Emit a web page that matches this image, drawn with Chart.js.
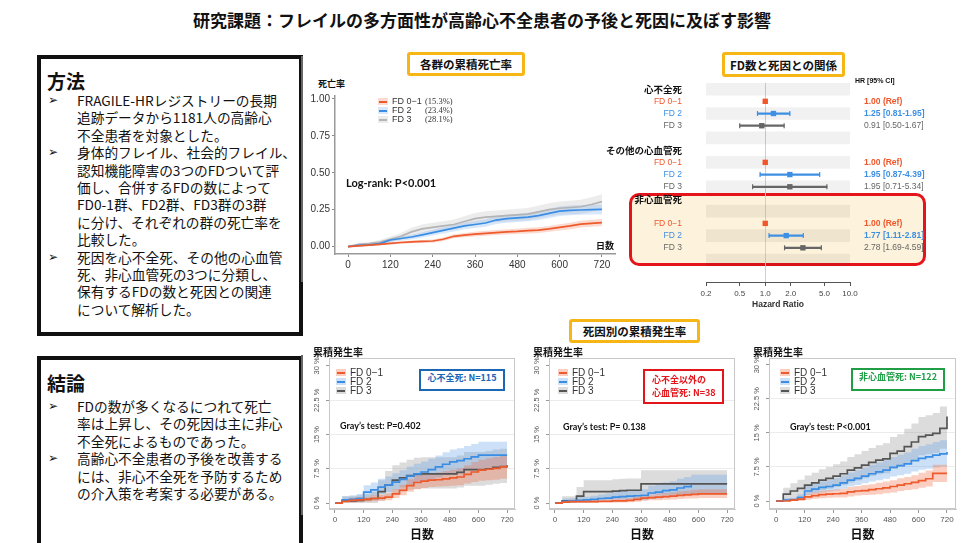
<!DOCTYPE html>
<html lang="ja">
<head>
<meta charset="utf-8">
<title>フレイルの多方面性と高齢心不全患者の予後</title>
<script src="https://cdn.jsdelivr.net/npm/chart.js@4.4.1/dist/chart.umd.min.js"></script>
<style>
    body { margin: 0; width: 964px; height: 543px; position: relative; overflow: hidden; background: #fff;
           font-family: "Noto Sans CJK JP", "Noto Sans", sans-serif; color: #111; }
    canvas { position: absolute; }
    .t { position: absolute; white-space: nowrap; line-height: 1; }
    h1 { position: absolute; left: 0; top: 11px; width: 964px; margin: 0; text-align: center;
         font-size: 17px; line-height: 1; font-weight: 700; }
    .tbox { position: absolute; box-sizing: border-box; border: 3px solid #f6b716; border-radius: 3px; background: #fff;
            font-weight: 700; font-size: 11.5px; display: flex; align-items: center; justify-content: center; }
    .panel { position: absolute; left: 37px; width: 266px; box-sizing: border-box; border: 4px solid #111; }
    .panel h2 { position: absolute; left: 6px; margin: 0; font-size: 19px; line-height: 1; font-weight: 700; }
    .panel .body { position: absolute; left: 0; font-size: 13.7px; line-height: 17.4px; }
    .panel .ln { white-space: nowrap; padding-left: 36px; position: relative; }
    .panel .bul { position: absolute; left: 7px; font-family: "DejaVu Sans", sans-serif; font-size: 12px; }
    .sep { position: absolute; left: 301px; width: 2px; background: #666; }
    .legend { position: absolute; font-family: "Liberation Sans", Arial, sans-serif; color: #333; }
    .lg-row { position: relative; height: 9px; line-height: 9px; white-space: nowrap; padding-left: 14px; }
    .sw { position: absolute; left: 0; top: 1px; width: 10px; height: 7px; }
    .sw i { position: absolute; left: 1px; right: 1px; top: 2.5px; height: 2px; }
    .pct { position: absolute; left: 47px; font-family: "Liberation Serif", serif; font-size: 8.5px; }
    .nbox { position: absolute; box-sizing: border-box; border: 2.5px solid; background: #fff; font-weight: 700;
            font-size: 9px; line-height: 13px; }
    .gray { font-family: Lato, "Liberation Sans", sans-serif; font-weight: 700; font-size: 9px; }
    #redPanel { position: absolute; left: 629px; top: 193px; width: 297px; height: 73px; box-sizing: border-box;
                border: 3px solid #e5141b; border-radius: 10px; background: #fdf3dc; }
</style>
</head>
<body>

<h1>研究課題：フレイルの多方面性が高齢心不全患者の予後と死因に及ぼす影響</h1>

<div class="panel" style="top:55px;height:281px;">
    <h2 style="top:12px;">方法</h2>
    <div class="body" style="top:33px;">
        <div class="ln"><span class="bul">➢</span>FRAGILE-HRレジストリーの長期</div>
        <div class="ln">追跡データから1181人の高齢心</div>
        <div class="ln">不全患者を対象とした。</div>
        <div class="ln"><span class="bul">➢</span>身体的フレイル、社会的フレイル、</div>
        <div class="ln">認知機能障害の3つのFDついて評</div>
        <div class="ln">価し、合併するFDの数によって</div>
        <div class="ln">FD0-1群、FD2群、FD3群の3群</div>
        <div class="ln">に分け、それぞれの群の死亡率を</div>
        <div class="ln">比較した。</div>
        <div class="ln"><span class="bul">➢</span>死因を心不全死、その他の心血管</div>
        <div class="ln">死、非心血管死の3つに分類し、</div>
        <div class="ln">保有するFDの数と死因との関連</div>
        <div class="ln">について解析した。</div>
    </div>
</div>

<div class="panel" style="top:356px;height:195px;">
    <h2 style="top:13px;">結論</h2>
    <div class="body" style="top:38px;">
        <div class="ln"><span class="bul">➢</span>FDの数が多くなるにつれて死亡</div>
        <div class="ln">率は上昇し、その死因は主に非心</div>
        <div class="ln">不全死によるものであった。</div>
        <div class="ln"><span class="bul">➢</span>高齢心不全患者の予後を改善する</div>
        <div class="ln">には、非心不全死を予防するため</div>
        <div class="ln">の介入策を考案する必要がある。</div>
    </div>
</div>

<div class="sep" style="top:56px;height:226px;"></div>
<div class="sep" style="top:355px;height:160px;"></div>

<div class="tbox" style="left:407px;top:52px;width:118px;height:24px;">各群の累積死亡率</div>
<div class="tbox" style="left:722px;top:52px;width:123px;height:25px;">FD数と死因との関係</div>
<div class="tbox" style="left:569px;top:319px;width:131px;height:24px;">死因別の累積発生率</div>

<div id="redPanel"></div>

<canvas id="kmChart" width="320" height="190" style="left:300px;top:92px;"></canvas>
<canvas id="forestChart" width="358" height="232" style="left:606px;top:78px;"></canvas>
<canvas id="incHF" width="220" height="193" style="left:300px;top:350px;"></canvas>
<canvas id="incCV" width="220" height="193" style="left:520px;top:350px;"></canvas>
<canvas id="incNonCV" width="224" height="193" style="left:740px;top:350px;"></canvas>

<span class="t" style="left:318px;top:79px;font-size:9px;font-weight:700;">死亡率</span>
<span class="t" style="left:596px;top:241px;font-size:9px;font-weight:700;">日数</span>
<span class="t" style="left:346px;top:177px;font-family:Lato,sans-serif;font-weight:700;font-size:11px;">Log-rank: P&lt;0.001</span>
<span class="t" style="left:855px;top:77px;font-family:'Liberation Sans',sans-serif;font-size:7px;font-weight:700;">HR [95% CI]</span>

<span class="t" style="left:313px;top:347px;font-size:10px;font-weight:700;">累積発生率</span>
<span class="t" style="left:533px;top:347px;font-size:10px;font-weight:700;">累積発生率</span>
<span class="t" style="left:753px;top:347px;font-size:10px;font-weight:700;">累積発生率</span>

<div class="nbox" style="left:419px;top:369px;width:86px;height:22px;border-color:#1b66b5;color:#1b66b5;text-align:center;">心不全死: N=115</div>
<div class="nbox" style="left:643px;top:369px;width:81px;height:35px;border-color:#e3151a;color:#e3151a;padding:2px 0 0 7px;">心不全以外の<br>心血管死: N=38</div>
<div class="nbox" style="left:851px;top:368px;width:94px;height:23px;border-color:#1f9e46;color:#1f9e46;text-align:center;">非心血管死: N=122</div>

<span class="t gray" style="left:340px;top:421px;">Gray’s test: P=0.402</span>
<span class="t gray" style="left:563px;top:422px;">Gray’s test: P= 0.138</span>
<span class="t gray" style="left:790px;top:422px;">Gray’s test: P&lt;0.001</span>

<script>
// ---- data ----
const groupLabels = ["FD 0−1", "FD 2", "FD 3"];
const kmPercents = ["(15.3%)", "(23.4%)", "(28.1%)"];

// cumulative mortality (all-cause), every 30 days
const kmDays = [0, 30, 60, 90, 120, 150, 180, 210, 240, 270, 300, 330, 360, 390, 420, 450, 480, 510, 540, 570, 600, 630, 660, 690, 720];
const kmFd01 = [0, 0.005, 0.01, 0.015, 0.022, 0.028, 0.032, 0.035, 0.038, 0.05, 0.07, 0.078, 0.085, 0.09, 0.095, 0.1, 0.103, 0.108, 0.112, 0.12, 0.13, 0.14, 0.152, 0.158, 0.163];
const kmFd01Lo = [0, 0.002, 0.005, 0.009, 0.014, 0.019, 0.022, 0.025, 0.027, 0.038, 0.056, 0.063, 0.069, 0.073, 0.078, 0.082, 0.085, 0.089, 0.093, 0.1, 0.109, 0.118, 0.129, 0.134, 0.139];
const kmFd01Hi = [0, 0.008, 0.015, 0.021, 0.03, 0.037, 0.042, 0.045, 0.049, 0.062, 0.084, 0.093, 0.101, 0.107, 0.112, 0.118, 0.121, 0.127, 0.131, 0.14, 0.151, 0.162, 0.175, 0.182, 0.187];
const kmFd2 = [0, 0.008, 0.012, 0.02, 0.045, 0.055, 0.065, 0.08, 0.095, 0.11, 0.125, 0.14, 0.15, 0.16, 0.18, 0.19, 0.195, 0.2, 0.21, 0.225, 0.24, 0.245, 0.248, 0.25, 0.252];
const kmFd2Lo = [0, 0.002, 0.005, 0.011, 0.032, 0.04, 0.049, 0.062, 0.076, 0.089, 0.103, 0.117, 0.126, 0.135, 0.153, 0.162, 0.167, 0.171, 0.18, 0.194, 0.208, 0.212, 0.215, 0.217, 0.219];
const kmFd2Hi = [0, 0.014, 0.019, 0.029, 0.058, 0.07, 0.081, 0.098, 0.114, 0.131, 0.147, 0.163, 0.174, 0.185, 0.207, 0.218, 0.223, 0.229, 0.24, 0.256, 0.272, 0.278, 0.281, 0.283, 0.285];
const kmFd3 = [0, 0.015, 0.02, 0.03, 0.05, 0.07, 0.1, 0.12, 0.13, 0.14, 0.15, 0.17, 0.19, 0.2, 0.205, 0.21, 0.215, 0.22, 0.235, 0.25, 0.26, 0.265, 0.27, 0.285, 0.305];
const kmFd3Lo = [0, 0.005, 0.008, 0.015, 0.031, 0.047, 0.073, 0.09, 0.099, 0.108, 0.117, 0.134, 0.152, 0.161, 0.165, 0.17, 0.174, 0.178, 0.192, 0.206, 0.215, 0.219, 0.223, 0.236, 0.255];
const kmFd3Hi = [0, 0.025, 0.032, 0.045, 0.069, 0.093, 0.127, 0.15, 0.161, 0.172, 0.183, 0.206, 0.228, 0.239, 0.245, 0.25, 0.256, 0.262, 0.278, 0.294, 0.305, 0.311, 0.317, 0.334, 0.355];
const kmDayTicks = [0, 120, 240, 360, 480, 600, 720];
const kmRateTicks = [0, 0.25, 0.5, 0.75, 1];

// forest plot rows (top to bottom)
const forestRows = ["心不全死", "FD 0−1", "FD 2", "FD 3", "", "その他の心血管死", "FD 0−1", "FD 2", "FD 3", "非心血管死", "", "FD 0−1", "FD 2", "FD 3", ""];
const forestHr = [null, 1.00, 1.25, 0.91, null, null, 1.00, 1.95, 1.95, null, null, 1.00, 1.77, 2.78, null];
const forestLo = [null, null, 0.81, 0.50, null, null, null, 0.87, 0.71, null, null, null, 1.11, 1.69, null];
const forestHi = [null, null, 1.95, 1.67, null, null, null, 4.39, 5.34, null, null, null, 2.81, 4.59, null];
const forestText = ["", "1.00 (Ref)", "1.25 [0.81-1.95]", "0.91 [0.50-1.67]", "", "", "1.00 (Ref)", "1.95 [0.87-4.39]", "1.95 [0.71-5.34]", "", "", "1.00 (Ref)", "1.77 [1.11-2.81]", "2.78 [1.69-4.59]", ""];
const stripeRows = [0, 2, 4, 6, 8, 10, 12, 14];
const hrTicks = [0.2, 0.5, 1.0, 2.0, 5.0, 10.0];
const sectionLabels = ["心不全死", "その他の心血管死", "非心血管死"];

// cumulative incidence by cause of death (%), every 30 days
const incDays = [0, 30, 60, 90, 120, 150, 180, 210, 240, 270, 300, 330, 360, 390, 420, 450, 480, 510, 540, 570, 600, 630, 660, 690, 720];
const incTicksX = [0, 120, 240, 360, 480, 600, 720];
const incTicksY = [0, 7.5, 15, 22.5, 30];

const hfFd01 = [0, 0.4, 0.6, 0.7, 0.8, 1.0, 1.1, 1.3, 2.0, 2.8, 3.8, 4.5, 4.8, 5.0, 5.1, 5.3, 5.5, 5.7, 6.3, 6.8, 7.2, 7.4, 7.6, 7.9, 8.3];
const hfFd01Lo = [0, 0, 0.1, 0.2, 0.3, 0.4, 0.5, 0.6, 1.1, 1.7, 2.5, 3.0, 3.3, 3.5, 3.6, 3.7, 3.8, 3.9, 4.3, 4.6, 4.9, 5.0, 5.1, 5.3, 5.6];
const hfFd01Hi = [0, 0.9, 1.2, 1.3, 1.4, 1.7, 1.8, 2.1, 3.0, 4.0, 5.2, 6.0, 6.4, 6.6, 6.7, 7.0, 7.3, 7.6, 8.3, 9.0, 9.5, 9.8, 10.1, 10.5, 11.0];
const hfFd2 = [0, 0.7, 0.8, 1.0, 2.4, 2.9, 3.5, 4.0, 4.6, 5.2, 5.9, 6.4, 6.8, 7.3, 7.9, 8.5, 9.0, 9.3, 9.7, 10.1, 10.5, 10.5, 10.5, 10.5, 10.5];
const hfFd2Lo = [0, 0.1, 0.2, 0.3, 1.2, 1.6, 2.0, 2.4, 2.9, 3.4, 4.0, 4.4, 4.7, 5.1, 5.6, 6.1, 6.5, 6.8, 7.1, 7.4, 7.7, 7.7, 7.7, 7.7, 7.7];
const hfFd2Hi = [0, 1.5, 1.7, 2.0, 3.9, 4.5, 5.3, 5.8, 6.5, 7.2, 8.0, 8.6, 9.1, 9.7, 10.4, 11.1, 11.7, 12.0, 12.5, 12.9, 13.4, 13.4, 13.4, 13.4, 13.4];
const hfFd3 = [0, 0.5, 0.5, 0.6, 0.8, 1.0, 2.5, 4.0, 5.0, 5.5, 6.0, 6.3, 6.4, 6.4, 6.4, 6.4, 6.4, 6.7, 7.3, 7.3, 7.3, 7.5, 7.8, 8.0, 8.3];
const hfFd3Lo = [0, 0, 0, 0, 0, 0, 0.5, 1.5, 2.2, 2.5, 2.9, 3.1, 3.2, 3.2, 3.2, 3.2, 3.2, 3.4, 3.8, 3.8, 3.8, 4.0, 4.2, 4.4, 4.6];
const hfFd3Hi = [0, 1.5, 1.5, 1.7, 2.0, 2.5, 5.0, 7.0, 8.3, 8.9, 9.5, 9.9, 10.0, 10.0, 10.0, 10.0, 10.0, 10.4, 11.2, 11.2, 11.2, 11.4, 11.7, 11.9, 12.2];

const cvFd01 = [0, 0.2, 0.3, 0.3, 0.3, 0.3, 0.4, 0.4, 0.5, 0.5, 0.6, 0.8, 1.1, 1.2, 1.3, 1.4, 1.5, 1.7, 1.8, 1.9, 2.0, 2.0, 2.0, 2.0, 2.0];
const cvFd01Lo = [0, 0, 0, 0, 0, 0, 0, 0, 0.1, 0.1, 0.2, 0.3, 0.5, 0.6, 0.6, 0.7, 0.8, 0.9, 1.0, 1.0, 1.1, 1.1, 1.1, 1.1, 1.1];
const cvFd01Hi = [0, 0.5, 0.7, 0.7, 0.7, 0.7, 0.8, 0.8, 1.0, 1.0, 1.1, 1.4, 1.8, 1.9, 2.1, 2.2, 2.3, 2.6, 2.7, 2.9, 3.0, 3.0, 3.0, 3.0, 3.0];
const cvFd2 = [0, 0.4, 0.5, 0.6, 0.7, 0.8, 1.0, 1.1, 1.3, 1.4, 1.5, 1.6, 1.7, 2.2, 2.4, 2.7, 2.9, 3.3, 3.6, 4.0, null, null, null, null, null];
const cvFd2Lo = [0, 0, 0, 0.1, 0.1, 0.2, 0.3, 0.3, 0.4, 0.5, 0.5, 0.6, 0.6, 0.9, 1.0, 1.2, 1.3, 1.6, 1.8, 2.0, 2.0, 2.0, 2.0, 2.0, 2.0];
const cvFd2Hi = [0, 1.0, 1.1, 1.3, 1.4, 1.6, 1.9, 2.1, 2.4, 2.6, 2.7, 2.9, 3.0, 3.8, 4.1, 4.5, 4.8, 5.3, 5.7, 6.2, 6.2, 6.2, 6.2, 6.2, 6.2];
const cvFd3 = [0, 0.5, 0.5, 1.5, 2.5, 2.5, 2.5, 2.5, 2.6, 2.7, 2.8, 2.8, 4.2, 4.2, 4.2, 4.2, 4.2, 4.2, 4.2, 4.2, 4.2, 4.2, 4.2, 4.2, 4.2];
const cvFd3Lo = [0, 0, 0, 0.2, 0.8, 0.8, 0.8, 0.8, 0.9, 0.9, 1.0, 1.0, 1.9, 1.9, 1.9, 1.9, 1.9, 1.9, 1.9, 1.9, 1.9, 1.9, 1.9, 1.9, 1.9];
const cvFd3Hi = [0, 1.5, 1.5, 3.5, 5.0, 5.0, 5.0, 5.0, 5.2, 5.3, 5.4, 5.4, 7.2, 7.2, 7.2, 7.2, 7.2, 7.2, 7.2, 7.2, 7.2, 7.2, 7.2, 7.2, 7.2];

const ncFd01 = [0, 0, 0.2, 0.4, 0.9, 1.2, 1.4, 1.5, 1.6, 1.7, 2.0, 2.2, 2.3, 2.5, 2.7, 2.9, 3.2, 3.5, 3.8, 4.1, 4.5, 4.9, 6.1, 6.1, 6.1];
const ncFd01Lo = [0, 0, 0, 0, 0.3, 0.5, 0.6, 0.7, 0.8, 0.8, 1.0, 1.2, 1.3, 1.4, 1.5, 1.7, 1.9, 2.2, 2.4, 2.6, 2.9, 3.2, 4.2, 4.2, 4.2];
const ncFd01Hi = [0, 0.4, 0.6, 0.9, 1.6, 2.0, 2.3, 2.4, 2.6, 2.7, 3.1, 3.3, 3.5, 3.7, 4.0, 4.3, 4.6, 5.0, 5.3, 5.7, 6.2, 6.7, 8.0, 8.0, 8.0];
const ncFd2 = [0, 0.2, 0.3, 0.8, 2.2, 2.6, 3.0, 3.2, 3.5, 4.0, 4.6, 5.0, 5.5, 6.0, 6.4, 6.8, 7.4, 7.8, 8.2, 8.9, 9.4, 9.7, 10.1, 10.4, 10.8];
const ncFd2Lo = [0, 0, 0, 0.3, 1.3, 1.6, 1.9, 2.1, 2.3, 2.7, 3.2, 3.5, 3.9, 4.3, 4.6, 4.9, 5.4, 5.7, 6.0, 6.5, 6.9, 7.1, 7.4, 7.6, 7.9];
const ncFd2Hi = [0, 0.6, 0.8, 1.5, 3.3, 3.8, 4.3, 4.6, 5.0, 5.6, 6.3, 6.8, 7.4, 8.0, 8.5, 9.0, 9.7, 10.2, 10.7, 11.5, 12.1, 12.5, 13.0, 13.4, 13.9];
const ncFd3 = [0, 1.5, 2.2, 2.8, 3.5, 4.0, 4.6, 5.0, 5.5, 6.0, 6.8, 7.3, 7.9, 8.5, 9.0, 9.3, 10.5, 11.0, 12.0, 13.0, 14.2, 14.5, 14.9, 16.0, 18.6];
const ncFd3Lo = [0, 0.3, 0.7, 1.1, 1.6, 2.0, 2.4, 2.7, 3.1, 3.5, 4.1, 4.5, 5.0, 5.5, 5.9, 6.1, 7.1, 7.5, 8.3, 9.1, 10.1, 10.3, 10.6, 11.5, 13.5];
const ncFd3Hi = [0, 2.9, 3.9, 4.7, 5.6, 6.2, 7.0, 7.5, 8.1, 8.7, 9.7, 10.3, 11.0, 11.7, 12.3, 12.7, 14.1, 14.7, 15.9, 17.1, 18.5, 18.9, 19.4, 20.8, 23.5];

// ---- styles ----
const lineColors = ["#ee5a2c", "#3a8de4", "#555555"];
const bandColors = ["rgba(240,110,70,0.33)", "rgba(100,165,235,0.33)", "rgba(150,150,150,0.33)"];
const kmLineColors = ["#ee5a2c", "#3a8de4", "#b4b4b4"];
const kmBandColors = ["rgba(240,110,70,0.25)", "rgba(100,165,235,0.25)", "rgba(200,200,200,0.35)"];
const forestColors = { "FD 0−1": "#f0562a", "FD 2": "#3d8fe3", "FD 3": "#666666" };
const latin = "'Liberation Sans', Arial, sans-serif";

Chart.defaults.animation = false;
Chart.defaults.plugins.legend.display = false;
Chart.defaults.plugins.tooltip.enabled = false;
Chart.defaults.font.family = latin;
Chart.defaults.layout.autoPadding = false;

function toPoints(days, values) {
    return days.map((d, i) => ({ x: d, y: values[i] }));
}

// keep tick label padding from pushing the plot area down
function fixWidth(w) {
    return s => { s.width = w; s.paddingTop = 0; s.paddingBottom = 0; };
}

function addLegend(left, top, lines, bands, fontSize, extra) {
    const box = document.createElement("div");
    box.className = "legend";
    box.style.left = left + "px";
    box.style.top = top + "px";
    box.style.fontSize = fontSize + "px";
    box.innerHTML = groupLabels.map((label, i) => {
        return `<div class="lg-row"><span class="sw" style="background:${bands[i]}"><i style="background:${lines[i]}"></i></span>${label}${extra ? `<span class="pct">${extra[i]}</span>` : ""}</div>`;
    }).join("");
    document.body.appendChild(box);
}

// band (lower + upper filled) and line datasets for each group
function curveDatasets(days, groups, lines, bands, stepped) {
    const sets = [];
    groups.forEach((g, i) => {
        sets.push({ data: toPoints(days, g[1]), borderWidth: 0, pointRadius: 0, fill: false, stepped: stepped, order: 2 });
        sets.push({ data: toPoints(days, g[2]), borderWidth: 0, pointRadius: 0, fill: "-1", backgroundColor: bands[i], stepped: stepped, order: 2 });
    });
    groups.forEach((g, i) => {
        sets.push({ data: toPoints(days, g[0]), borderColor: lines[i], borderWidth: 1.7, pointRadius: 0, fill: false, stepped: stepped, order: 1 });
    });
    return sets;
}

// ---- Kaplan-Meier (all-cause mortality) ----
new Chart(document.getElementById("kmChart"), {
    type: "line",
    data: {
        datasets: curveDatasets(kmDays, [[kmFd01, kmFd01Lo, kmFd01Hi], [kmFd2, kmFd2Lo, kmFd2Hi], [kmFd3, kmFd3Lo, kmFd3Hi]], kmLineColors, kmBandColors, false)
    },
    options: {
        responsive: false,
        layout: { padding: { left: 0, right: 5, top: 4, bottom: 0 } },
        scales: {
            x: {
                type: "linear", min: -37, max: 757,
                afterBuildTicks: s => { s.ticks = kmDayTicks.map(v => ({ value: v })); },
                afterFit: s => { s.height = 28; },
                grid: { drawOnChartArea: false, tickLength: 3, tickColor: "#888" },
                border: { color: "#999", width: 1.5 },
                ticks: { autoSkip: false, maxRotation: 0, padding: 2, color: "#333", font: { size: 10 } }
            },
            y: {
                min: -0.05, max: 1.02,
                afterBuildTicks: s => { s.ticks = kmRateTicks.map(v => ({ value: v })); },
                afterFit: fixWidth(35),
                grid: { drawOnChartArea: false, tickLength: 3, tickColor: "#888" },
                border: { color: "#999", width: 1.5 },
                ticks: { autoSkip: false, padding: 2, color: "#333", font: { size: 10 }, callback: v => v.toFixed(2) }
            }
        }
    }
});
addLegend(378, 97, kmLineColors, kmBandColors, 9, kmPercents);

// ---- forest plot ----
const stripeData = stripeRows.map(r => ({ x: [0.2, 10], y: r }));
const ciRows = forestRows.map((_, i) => i).filter(i => forestLo[i] !== null);
const hrRows = forestRows.map((_, i) => i).filter(i => forestHr[i] !== null);
const rowColor = i => forestColors[forestRows[i]] || "#111";

new Chart(document.getElementById("forestChart"), {
    type: "bar",
    data: {
        datasets: [
            { type: "scatter", order: 0, data: hrRows.map(i => ({ x: forestHr[i], y: i })),
              pointStyle: "rect", pointRadius: 3.8, backgroundColor: hrRows.map(rowColor), borderColor: hrRows.map(rowColor), borderWidth: 0 },
            { type: "scatter", order: 0, data: ciRows.flatMap(i => [{ x: forestLo[i], y: i }, { x: forestHi[i], y: i }]),
              pointStyle: "line", rotation: 90, pointRadius: 2.5, borderWidth: 1.2, borderColor: ciRows.flatMap(i => [rowColor(i), rowColor(i)]) },
            { type: "bar", order: 1, indexAxis: "y", grouped: false, barThickness: 1.6,
              data: ciRows.map(i => ({ x: [forestLo[i], forestHi[i]], y: i })), backgroundColor: ciRows.map(rowColor) },
            { type: "bar", order: 2, indexAxis: "y", grouped: false, barThickness: 12,
              data: stripeData, backgroundColor: "rgba(0,0,0,0.055)" }
        ]
    },
    options: {
        responsive: false,
        layout: { padding: { left: 0, right: 0, top: 5, bottom: 0 } },
        scales: {
            x: {
                type: "logarithmic", min: 0.2, max: 10, offset: false,
                afterBuildTicks: s => { s.ticks = hrTicks.map(v => ({ value: v })); },
                afterFit: s => { s.height = 28; },
                grid: { offset: false, color: c => (c.tick && c.tick.value === 1 ? "#d0d0d0" : "rgba(0,0,0,0)"), tickLength: 4, tickColor: "#555" },
                border: { color: "#555" },
                ticks: { autoSkip: false, maxRotation: 0, padding: 3, color: "#444", font: { size: 8 }, callback: v => Number(v).toFixed(1) },
                title: { display: true, text: "Hazard Ratio", color: "#333", font: { size: 8.5, weight: "bold" }, padding: 0 }
            },
            y: {
                type: "linear", reverse: true, min: -0.5, max: 15.8, offset: false,
                afterBuildTicks: s => { s.ticks = forestRows.map((_, i) => ({ value: i })); },
                afterFit: fixWidth(100),
                grid: { display: false, offset: false },
                border: { display: false },
                ticks: {
                    autoSkip: false, padding: 16,
                    callback: v => forestRows[v],
                    color: c => rowColor(c.index),
                    font: c => (sectionLabels.includes(forestRows[c.index])
                        ? { size: 9.5, weight: "bold", family: "'Noto Sans CJK JP', sans-serif" }
                        : { size: 8.5, family: latin })
                }
            },
            y2: {
                type: "linear", position: "right", reverse: true, min: -0.5, max: 15.8, offset: false,
                afterBuildTicks: s => { s.ticks = forestRows.map((_, i) => ({ value: i })); },
                afterFit: fixWidth(114),
                grid: { display: false, offset: false },
                border: { display: false },
                ticks: {
                    autoSkip: false, padding: 6,
                    callback: v => forestText[v],
                    color: c => rowColor(c.index),
                    font: c => ({ size: 8.5, weight: forestRows[c.index] === "FD 3" ? "normal" : "bold" })
                }
            }
        }
    }
});

// ---- cumulative incidence charts ----
const plotFrame = {
    id: "plotFrame",
    afterDraw(chart) {
        const a = chart.chartArea;
        const ctx = chart.ctx;
        ctx.save();
        ctx.strokeStyle = "#c8c8c8";
        ctx.lineWidth = 1;
        ctx.strokeRect(a.left + 0.5, a.top + 0.5, a.width - 1, a.height - 1);
        ctx.restore();
    }
};

// y tick labels written vertically, like the original R plot
const verticalYTicks = {
    id: "verticalYTicks",
    afterDraw(chart) {
        const s = chart.scales.y;
        const ctx = chart.ctx;
        ctx.save();
        ctx.font = "7.5px " + latin;
        ctx.fillStyle = "#555";
        ctx.textAlign = "center";
        ctx.textBaseline = "middle";
        s.ticks.forEach(t => {
            ctx.save();
            ctx.translate(s.right - 12, s.getPixelForValue(t.value));
            ctx.rotate(-Math.PI / 2);
            ctx.fillText(t.value + " %", 0, 0);
            ctx.restore();
        });
        ctx.restore();
    }
};

function incidenceChart(canvasId, xMin, xMax, yMin, yMax, groups, padRight) {
    new Chart(document.getElementById(canvasId), {
        type: "line",
        data: { datasets: curveDatasets(incDays, groups, lineColors, bandColors, true) },
        options: {
            responsive: false,
            layout: { padding: { left: 0, right: padRight, top: 8, bottom: 0 } },
            scales: {
                x: {
                    type: "linear", min: xMin, max: xMax,
                    afterBuildTicks: s => { s.ticks = incTicksX.map(v => ({ value: v })); },
                    afterFit: s => { s.height = 34; },
                    grid: { drawOnChartArea: false, tickLength: 4, tickColor: "#999" },
                    border: { color: "#c8c8c8" },
                    ticks: { autoSkip: false, maxRotation: 0, padding: 2, color: "#555", font: { size: 8 } },
                    title: { display: true, text: "日数", color: "#111", padding: 1,
                             font: { size: 12, weight: "bold", family: "'Noto Sans CJK JP', sans-serif" } }
                },
                y: {
                    min: yMin, max: yMax,
                    afterBuildTicks: s => { s.ticks = incTicksY.map(v => ({ value: v })); },
                    afterFit: fixWidth(29),
                    grid: { color: c => (c.tick && c.tick.value > 0 && c.tick.value < 30 ? "#ececec" : "rgba(0,0,0,0)"),
                            tickLength: 3, tickColor: "#999" },
                    border: { color: "#c8c8c8" },
                    ticks: { display: false }
                }
            }
        },
        plugins: [plotFrame, verticalYTicks]
    });
}

incidenceChart("incHF", -25, 753, -1.3, 31.75,
    [[hfFd01, hfFd01Lo, hfFd01Hi], [hfFd2, hfFd2Lo, hfFd2Hi], [hfFd3, hfFd3Lo, hfFd3Hi]], 5);
incidenceChart("incCV", -25, 753, -1.3, 31.75,
    [[cvFd01, cvFd01Lo, cvFd01Hi], [cvFd2, cvFd2Lo, cvFd2Hi], [cvFd3, cvFd3Lo, cvFd3Hi]], 5);
incidenceChart("incNonCV", -30, 758, -1.76, 31.5,
    [[ncFd01, ncFd01Lo, ncFd01Hi], [ncFd2, ncFd2Lo, ncFd2Hi], [ncFd3, ncFd3Lo, ncFd3Hi]], 8);

addLegend(336, 368, lineColors, bandColors, 10);
addLegend(558, 368, lineColors, bandColors, 10);
addLegend(780, 368, lineColors, bandColors, 10);
</script>
</body>
</html>
